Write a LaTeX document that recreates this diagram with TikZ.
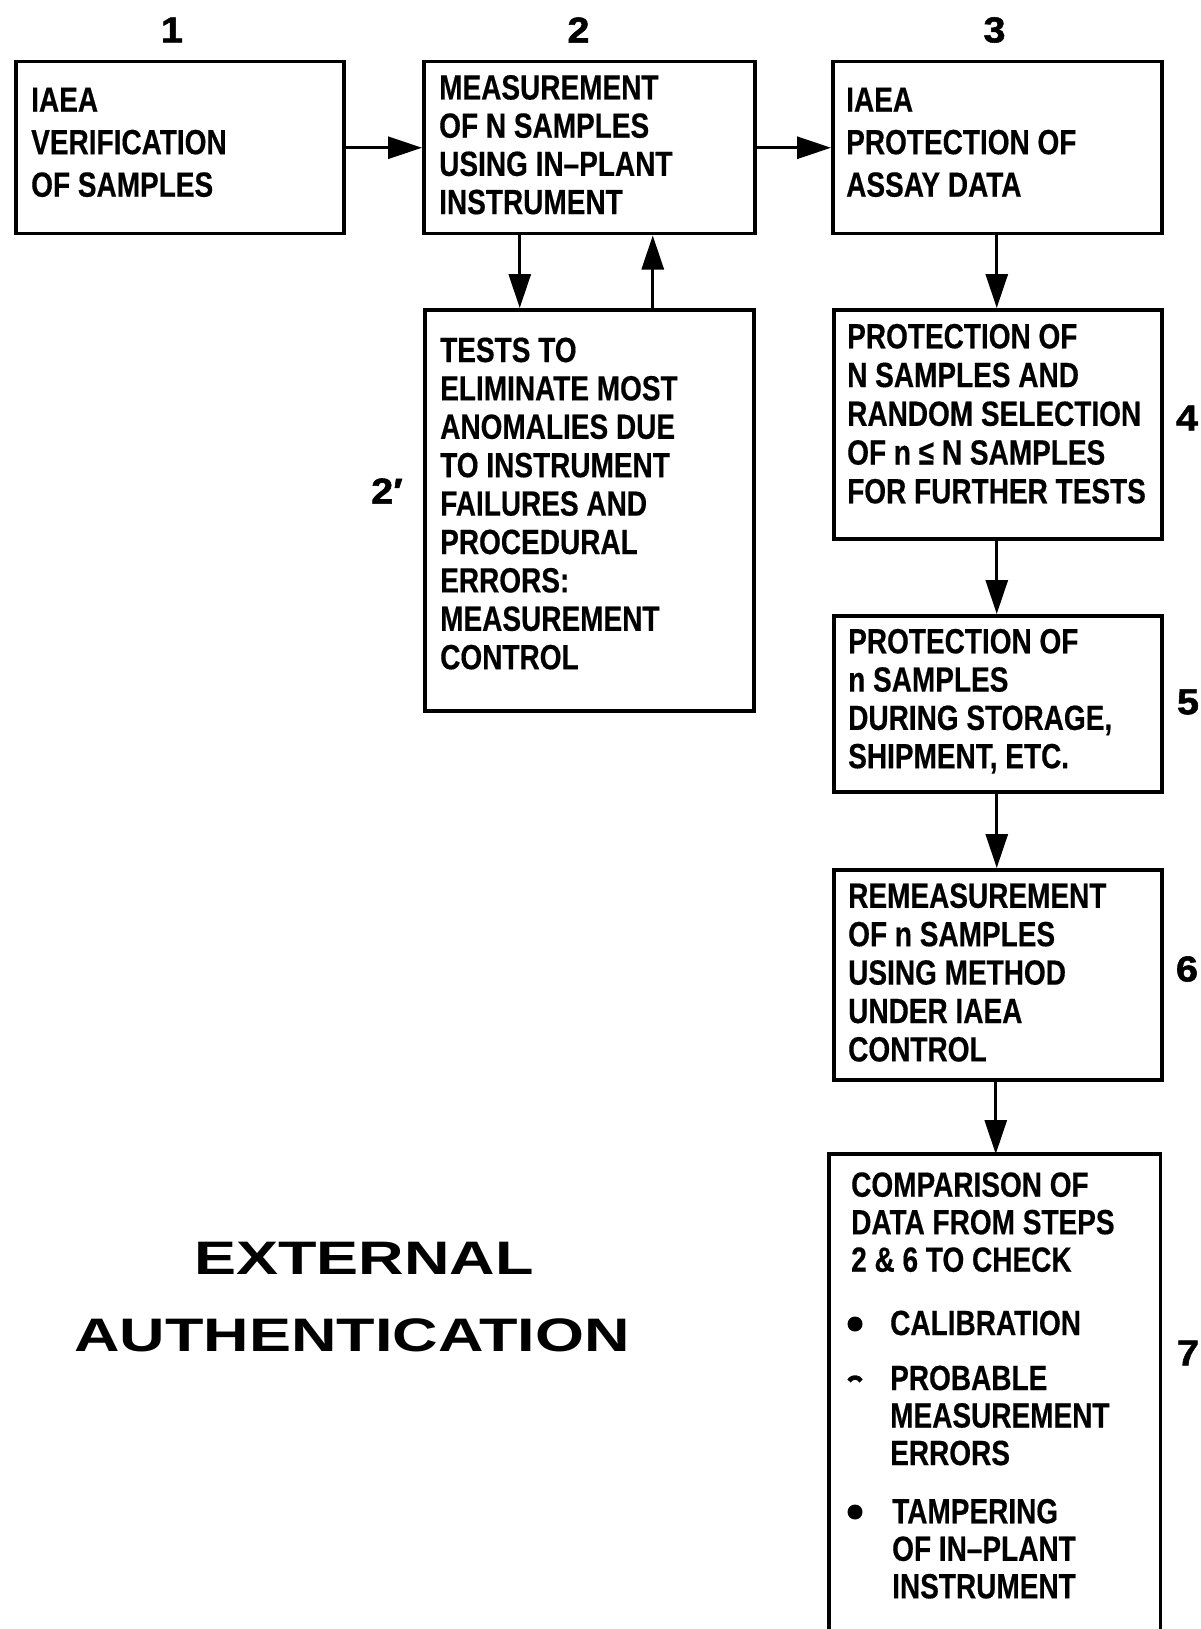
\documentclass[tikz,border=0pt]{standalone}
\usepackage{fontspec}
\usetikzlibrary{arrows.meta}
\newfontfamily\bxfont[FakeStretch=0.80,FakeBold=0.4]{Liberation Sans}
\newfontfamily\numfont[FakeStretch=1.1,FakeBold=1.5]{Liberation Sans}
\newfontfamily\extfont[FakeStretch=1.34]{Liberation Sans}
\newcommand{\lines}[1]{\begin{tabular}[t]{@{}l@{}}#1\end{tabular}}
\tikzset{
  boxst/.style={draw, line width=3.5pt, rectangle, inner sep=0pt, anchor=north west},
  openbox/.style={rectangle, inner sep=0pt, anchor=north west},
  boxline/.style={line width=3.5pt},
  arr/.style={line width=3pt, -{Triangle[length=34pt,width=22pt]}},
  txt/.style={anchor=base west, inner sep=0pt, font=\bxfont\bfseries\fontsize{35}{38.4}\selectfont},
  txtwide/.style={anchor=base west, inner sep=0pt, font=\bxfont\bfseries\fontsize{35}{42.5}\selectfont},
  num/.style={inner sep=0pt, font=\numfont\bfseries\fontsize{36}{40}\selectfont},
  ext/.style={inner sep=0pt, font=\extfont\bfseries\fontsize{47}{50}\selectfont},
  bul/.style={circle, fill, inner sep=0pt, minimum size=15pt}
}
\begin{document}
\begin{tikzpicture}[x=1pt,y=-1pt]
\useasboundingbox[fill=white] (0,0) rectangle (1200,1629);

% boxes
\node[boxst, minimum width=328pt, minimum height=172pt] (b1) at (14,60) {};
\node[boxst, minimum width=331pt, minimum height=172pt] (b2) at (422,60) {};
\node[boxst, minimum width=329pt, minimum height=172pt] (b3) at (831,60) {};
\node[boxst, minimum width=329pt, minimum height=401pt] (b2p) at (423,308) {};
\node[boxst, minimum width=328pt, minimum height=229pt] (b4) at (832,308) {};
\node[boxst, minimum width=328pt, minimum height=176pt] (b5) at (832,614) {};
\node[boxst, minimum width=328pt, minimum height=210pt] (b6) at (832,868) {};
\node[openbox, minimum width=331pt, minimum height=500pt] (b7) at (829,1154) {};
\draw[boxline] (b7.south west) -- (b7.north west) -- (b7.north east) -- (b7.south east);

% arrows
\draw[arr] (b1) -- (b2);
\draw[arr] (b2) -- (b3);
\draw[arr] ([xshift=-69.5pt]b2.south) -- ([xshift=-69.5pt]b2.south |- b2p.north);
\draw[arr] ([xshift=63.5pt]b2p.north) -- ([xshift=63.5pt]b2p.north |- b2.south);
\draw[arr] ([xshift=-0.5pt]b3.south) -- ([xshift=-0.5pt]b3.south |- b4.north);
\draw[arr] ([xshift=-1pt]b4.south) -- ([xshift=-1pt]b4.south |- b5.north);
\draw[arr] ([xshift=-1pt]b5.south) -- ([xshift=-1pt]b5.south |- b6.north);
\draw[arr] ([xshift=-2pt]b6.south) -- ([xshift=-2pt]b6.south |- b7.north);

% box texts
\node[txtwide] (t1) at (31,111.7) {\lines{IAEA\\VERIFICATION\\OF SAMPLES}};
\node[txt, font=\bxfont\bfseries\fontsize{35}{38.2}\selectfont] (t2) at (439,99.5) {\lines{MEASUREMENT\\OF N SAMPLES\\USING IN–PLANT\\INSTRUMENT}};
\node[txtwide] (t3) at (846,111.7) {\lines{IAEA\\PROTECTION OF\\ASSAY DATA}};
\node[txt] (t2p) at (440,362) {\lines{TESTS TO\\ELIMINATE MOST\\ANOMALIES DUE\\TO INSTRUMENT\\FAILURES AND\\PROCEDURAL\\ERRORS:\\MEASUREMENT\\CONTROL}};
\node[txt, font=\bxfont\bfseries\fontsize{35}{38.75}\selectfont] (t4) at (847,348.3) {\lines{PROTECTION OF\\N SAMPLES AND\\RANDOM SELECTION\\OF n ≤ N SAMPLES\\FOR FURTHER TESTS}};
\node[txt, font=\bxfont\bfseries\fontsize{35}{38.3}\selectfont] (t5) at (848,653.3) {\lines{PROTECTION OF\\n SAMPLES\\DURING STORAGE,\\SHIPMENT, ETC.}};
\node[txt] (t6) at (848,907.8) {\lines{REMEASUREMENT\\OF n SAMPLES\\USING METHOD\\UNDER IAEA\\CONTROL}};
\node[txt, font=\bxfont\bfseries\fontsize{35}{37.5}\selectfont] (t7) at (851,1196.7) {\lines{COMPARISON OF\\DATA FROM STEPS\\2 \& 6 TO CHECK}};
\node[bul] (d1) at (855,1324) {};
\node[txt] (i1) at (890,1335) {CALIBRATION};
\node[inner sep=0pt, minimum size=15pt] (d2) at (855,1378) {};
\draw[line width=4.5pt] ([xshift=-6pt,yshift=-3pt]d2.center) arc (150:30:7pt);
\node[txt, font=\bxfont\bfseries\fontsize{35}{37.5}\selectfont] (i2) at (890,1390) {\lines{PROBABLE\\MEASUREMENT\\ERRORS}};
\node[bul] (d3) at (855,1512) {};
\node[txt, font=\bxfont\bfseries\fontsize{35}{37.5}\selectfont] (i3) at (892,1523.3) {\lines{TAMPERING\\OF IN–PLANT\\INSTRUMENT}};

% step numbers
\node[num] (n1) at (172,30) {1};
\node[num] (n2) at (578.5,30) {2};
\node[num] (n3) at (994.5,30) {3};
\node[num] (n2p) at (387,491) {2′};
\node[num] (n4) at (1187,418) {4};
\node[num] (n5) at (1188,702) {5};
\node[num] (n6) at (1187,969) {6};
\node[num] (n7) at (1188,1353) {7};

% title
\node[ext] (e1) at (364,1258.5) {EXTERNAL};
\node[ext] (e2) at (352,1335.5) {AUTHENTICATION};
\end{tikzpicture}
\end{document}
